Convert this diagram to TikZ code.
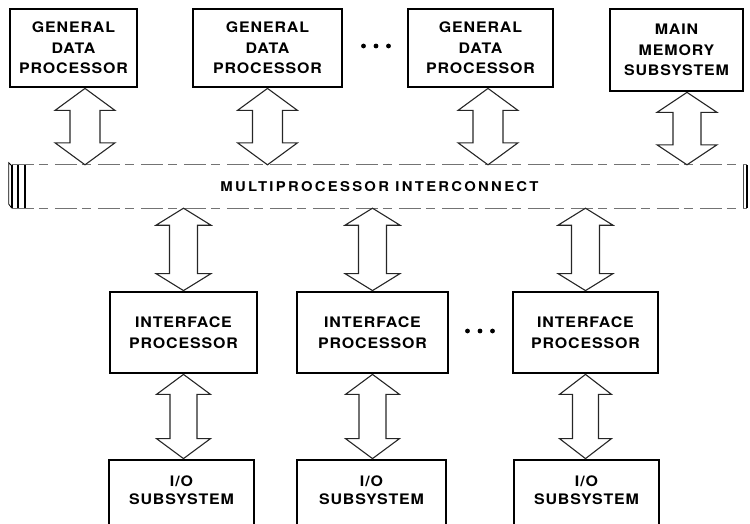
\documentclass[tikz,border=0pt]{standalone}
\usepackage{fontspec}
\usetikzlibrary{calc}
\newfontfamily\boxfont[FakeStretch=1.1,LetterSpace=6]{TeX Gyre Heros}
\newfontfamily\busfont[FakeStretch=1.1,LetterSpace=17]{TeX Gyre Heros}

% outlined double-headed block arrow between two points on one vertical
% #1 upper tip, #2 lower tip, #3 head half width, #4 shaft half width, #5 head length
\newcommand\dblarrow[5]{%
  \draw[blockarrow] let \p1=#1, \p2=#2 in
    (\x1,\y1) -- (\x1+#3,\y1-#5) -- (\x1+#4,\y1-#5) -- (\x1+#4,\y2+#5)
    -- (\x1+#3,\y2+#5) -- (\x1,\y2) -- (\x1-#3,\y2+#5) -- (\x1-#4,\y2+#5)
    -- (\x1-#4,\y1-#5) -- (\x1-#3,\y1-#5) -- cycle;}

% three heavy dots around a named point
\newcommand\threedots[1]{%
  \fill ([xshift=-12.5pt]#1) circle (2.4pt);
  \fill (#1) circle (2.4pt);
  \fill ([xshift=12.5pt]#1) circle (2.4pt);}

\tikzset{
  unitbox/.style={draw, line width=2.8pt, inner sep=0pt, align=center,
    font=\boxfont\bfseries\fontsize{14.5}{20.5}\selectfont},
  boxtext/.style={inner sep=0pt, align=center,
    font=\boxfont\bfseries\fontsize{14.5}{18.5}\selectfont},
  blockarrow/.style={line width=1.1pt, line join=miter, black!85},
  busedge/.style={line width=0.9pt, black!55, dash pattern=on 22pt off 5pt on 9pt off 7pt},
  busend/.style={line width=1.8pt},
  dotspot/.style={inner sep=0pt, minimum size=0pt}
}

\begin{document}
\begin{tikzpicture}[x=1pt,y=-1pt]
\useasboundingbox (0,0) rectangle (750,523);
\clip (0,0) rectangle (750,523);

% general data processors and main memory
\node[unitbox, minimum width=127, minimum height=78] (g1) at (73.5,48) {GENERAL\\DATA\\PROCESSOR};
\node[unitbox, minimum width=149, minimum height=78] (g2) at (267.5,48) {GENERAL\\DATA\\PROCESSOR};
\node[unitbox, minimum width=145, minimum height=78] (g3) at (480.5,48) {GENERAL\\DATA\\PROCESSOR};
\node[unitbox, minimum width=133, minimum height=82] (mm) at (676.5,50) {MAIN\\MEMORY\\SUBSYSTEM};
\node[dotspot] (dtop) at (376,46) {};
\threedots{dtop}

% multiprocessor interconnect bus
\node[minimum width=735, minimum height=43, inner sep=0pt,
      font=\busfont\bfseries\fontsize{13.5}{13.5}\selectfont] (bus) at (379.5,186.5)
      {MULTIPROCESSOR INTERCONNECT};
\draw[busedge] (bus.north west) -- (bus.north east);
\draw[busedge] (bus.south west) -- (bus.south east);
\draw[busend] (bus.north west) -- (bus.south west);
\draw[busend] ([xshift=6pt]bus.north west) -- ([xshift=6pt]bus.south west);
\draw[busend] ([xshift=13pt]bus.north west) -- ([xshift=13pt]bus.south west);
\draw[line width=0.8pt] ([yshift=-1pt]bus.north west) -- ++(-3,-3) -- ([xshift=-3pt,yshift=4pt]bus.south west) -- (bus.south west);
\draw[busend] (bus.north east) -- (bus.south east);
\draw[line width=0.8pt, black!70] ([xshift=-4pt]bus.north east) -- ([xshift=-4pt]bus.south east);

% interface processors
\node[unitbox, minimum width=147, minimum height=81] (i1) at (183.5,332.5) {INTERFACE\\PROCESSOR};
\node[unitbox, minimum width=151, minimum height=81] (i2) at (372.5,332.5) {INTERFACE\\PROCESSOR};
\node[unitbox, minimum width=145, minimum height=81] (i3) at (585.5,332.5) {INTERFACE\\PROCESSOR};
\node[dotspot] (dmid) at (480,331) {};
\threedots{dmid}

% I/O subsystems (running past the lower edge)
\node[unitbox, minimum width=145, minimum height=90] (o1) at (181.5,505) {};
\node[unitbox, minimum width=149, minimum height=90] (o2) at (371.5,505) {};
\node[unitbox, minimum width=145, minimum height=90] (o3) at (586.5,505) {};
\node[boxtext] (o1t) at (181.5,490) {I/O\\SUBSYSTEM};
\node[boxtext] (o2t) at (371.5,490) {I/O\\SUBSYSTEM};
\node[boxtext] (o3t) at (586.5,490) {I/O\\SUBSYSTEM};

% arrow positions
\coordinate (a1) at ([xshift=11.5pt]g1.south);
\coordinate (a2) at (g2.south);
\coordinate (a3) at ([xshift=7.5pt]g3.south);
\coordinate (a4) at ([xshift=10.5pt]mm.south);

\dblarrow{(a1)}{(a1 |- bus.north)}{30pt}{15pt}{22pt}
\dblarrow{(a2)}{(a2 |- bus.north)}{30pt}{15pt}{22pt}
\dblarrow{(a3)}{(a3 |- bus.north)}{30pt}{15pt}{22pt}
\dblarrow{(a4)}{(a4 |- bus.north)}{30pt}{14pt}{20pt}

\dblarrow{(i1.north |- bus.south)}{(i1.north)}{27.5pt}{14pt}{17pt}
\dblarrow{(i2.north |- bus.south)}{(i2.north)}{27.5pt}{14pt}{17pt}
\dblarrow{(i3.north |- bus.south)}{(i3.north)}{27.5pt}{14pt}{17pt}

\dblarrow{(i1.south)}{(i1.south |- o1.north)}{27pt}{13.5pt}{20pt}
\dblarrow{(i2.south)}{(i2.south |- o2.north)}{27pt}{13.5pt}{20pt}
\dblarrow{(i3.south)}{(i3.south |- o3.north)}{26pt}{13pt}{20pt}
\end{tikzpicture}
\end{document}
